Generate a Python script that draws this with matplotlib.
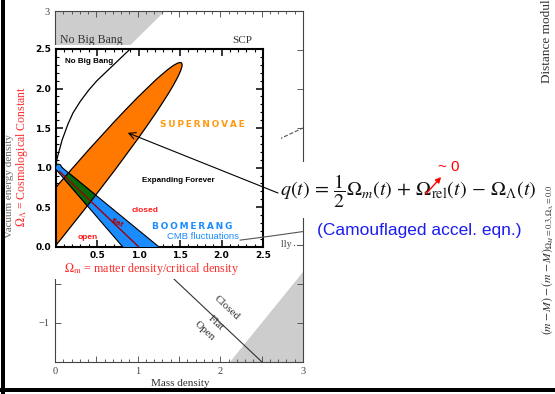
import numpy as np
import matplotlib
matplotlib.use("Agg")
import matplotlib.pyplot as plt
from matplotlib.patches import Ellipse, Polygon, Rectangle, FancyArrowPatch
from matplotlib.lines import Line2D
from matplotlib.ticker import MultipleLocator

plt.rcParams['mathtext.fontset'] = 'stix'
plt.rcParams['font.family'] = 'serif'
plt.rcParams['font.serif'] = ['Liberation Serif', 'DejaVu Serif']

W, H = 555, 394

# --- background plot: mass density vs vacuum energy density ---
bg_xticks = [0, 0.5, 1, 1.5, 2, 2.5, 3]
bg_xticklabels = ['0', '', '1', '', '2', '', '3']
bg_yticks = [-1.5, -1, -0.5, 0, 0.5, 1, 1.5, 2, 2.5, 3]
# 0, 1 and 2 sit under the inset card, so only -1 and 3 get labels
bg_yticklabels = ['', '\u22121', '', '', '', '', '', '', '', '3']
nobang_m = [0.0, 1.33, 0.90, 0.60, 0.0]
nobang_l = [3.0, 3.0, 2.55, 2.20, 1.0]
corner_m = [2.12, 3.0, 3.0]
corner_l = [-1.5, -1.5, -0.35]
flat_m = [0.0, 2.5]
flat_l = [1.0, -1.5]
accel_m = [0.0, 3.0]
accel_l = [0.0, 1.5]
zero_m = [0.0, 3.0]
zero_l = [0.0, 0.0]
recoll_m = [2.24, 2.6, 3.0]
recoll_l = [0.06, 0.11, 0.17]

# --- inset: supernova and CMB constraints ---
in_xticks = [0.5, 1.0, 1.5, 2.0, 2.5]
in_xticklabels = ['0.5', '1.0', '1.5', '2.0', '2.5']
in_yticks = [0.0, 0.5, 1.0, 1.5, 2.0, 2.5]
in_yticklabels = ['0.0', '0.5', '1.0', '1.5', '2.0', '2.5']
nbb_m = [0.0, 0.02, 0.08, 0.15, 0.21, 0.30, 0.40, 0.50, 0.60, 0.70, 0.80, 0.90]
nbb_l = [1.0, 1.12, 1.35, 1.55, 1.69, 1.84, 1.98, 2.10, 2.20, 2.30, 2.40, 2.50]
sn_center = (-0.30, 0.0)
sn_length = 5.9
sn_width = 0.46
sn_angle = 52
cmb_m = [0.0, 0.0, 0.03, 0.06, 0.08, 1.36, 0.89]
cmb_l = [0.985, 1.03, 1.045, 1.035, 1.0, -0.1, -0.1]
flatin_m = [0.05, 1.0]
flatin_l = [0.95, 0.0]


def fx(x):
    return x / W


def fy(y):
    return 1 - y / H


fig = plt.figure(figsize=(5.55, 3.94), dpi=100)

# background chart
ax_bg = fig.add_axes([fx(55), fy(361.7), (303 - 55) / W, (361.7 - 11) / H], zorder=0)
ax_bg.set_xlim(0, 3)
ax_bg.set_ylim(-1.5, 3)
ax_bg.fill(nobang_m, nobang_l, color='#cdcdcd', lw=0)
ax_bg.fill(corner_m, corner_l, color='#cdcdcd', lw=0)
ax_bg.plot(flat_m, flat_l, color='#333333', lw=0.8)
ax_bg.plot(accel_m, accel_l, ls='--', color='#555555', lw=0.8)
ax_bg.plot(zero_m, zero_l, ls=':', color='#555555', lw=0.8)
ax_bg.set_xticks(bg_xticks)
ax_bg.set_xticklabels(bg_xticklabels)
ax_bg.set_yticks(bg_yticks)
ax_bg.set_yticklabels(bg_yticklabels)
ax_bg.xaxis.set_minor_locator(MultipleLocator(0.1))
ax_bg.tick_params(which='both', direction='in', top=True, right=True,
                  colors='#444444', labelsize=7.5, width=0.6, pad=4)
ax_bg.tick_params(which='major', length=4)
ax_bg.tick_params(which='minor', length=2)
for s in ax_bg.spines.values():
    s.set_color('#444444')
    s.set_linewidth(0.8)
ax_bg.text(0.06, 2.63, 'No Big Bang', fontsize=8.5, color='#333333', va='center')
ax_bg.text(2.14, 2.62, 'SCP', fontsize=8, color='#333333', va='center')
ax_bg.text(2.08, -0.81, 'Closed', rotation=-43, fontsize=8, color='#333333',
           ha='center', va='center')
ax_bg.text(1.95, -1.0, 'Flat', rotation=-43, fontsize=8, color='#333333',
           ha='center', va='center')
ax_bg.text(1.81, -1.11, 'Open', rotation=-43, fontsize=8, color='#333333',
           ha='center', va='center')
ax_bg.text(2.86, 0.0, 'recollapses eventually', fontsize=7, color='#444444',
           ha='right', va='center',
           bbox=dict(facecolor='white', edgecolor='none', pad=0.5))
fig.text(fx(10), fy(186), 'Vacuum energy density', rotation=90, fontsize=8,
         color='#666666', ha='center', va='center')
fig.text(fx(180), fy(384), 'Mass density', fontsize=8, color='#333333',
         ha='center', va='center')

# white card behind the inset
fig.add_artist(Rectangle((fx(16), fy(279)), (281 - 16) / W, (279 - 45) / H,
                         transform=fig.transFigure, facecolor='white',
                         edgecolor='none', zorder=1))

# inset chart
ax_in = fig.add_axes([fx(55.5), fy(246.7), (263 - 55.5) / W, (246.7 - 49) / H], zorder=2)
ax_in.set_xlim(0, 2.5)
ax_in.set_ylim(0, 2.5)
sn = Ellipse(sn_center, sn_length, sn_width, angle=sn_angle,
             facecolor='#ff7800', edgecolor='none', zorder=2)
ax_in.add_patch(sn)
cmb_xy = np.column_stack([cmb_m, cmb_l])
ax_in.add_patch(Polygon(cmb_xy, closed=True, facecolor='#1a8cff',
                        edgecolor='black', lw=0.8, zorder=3))
overlap = Polygon(cmb_xy, closed=True, facecolor='#086b08',
                  edgecolor='black', lw=0.8, zorder=4)
ax_in.add_patch(overlap)
overlap.set_clip_path(sn)
ax_in.add_patch(Ellipse(sn_center, sn_length, sn_width, angle=sn_angle,
                        facecolor='none', edgecolor='black', lw=0.9, zorder=5))
ax_in.plot(flatin_m, flatin_l, color='#a00000', lw=1.0, zorder=6)
ax_in.plot(nbb_m, nbb_l, color='black', lw=0.9, zorder=6)

ax_in.set_xticks(in_xticks)
ax_in.set_xticklabels(in_xticklabels)
ax_in.set_yticks(in_yticks)
ax_in.set_yticklabels(in_yticklabels)
ax_in.xaxis.set_minor_locator(MultipleLocator(0.1))
ax_in.yaxis.set_minor_locator(MultipleLocator(0.1))
ax_in.tick_params(which='both', direction='in', top=True, right=True,
                  labelsize=6.5, pad=3)
ax_in.tick_params(which='major', length=5, width=1.1)
ax_in.tick_params(which='minor', length=2.5, width=0.8)
for lbl in ax_in.get_xticklabels() + ax_in.get_yticklabels():
    lbl.set_fontfamily('DejaVu Sans')
    lbl.set_fontweight('bold')
for s in ax_in.spines.values():
    s.set_linewidth(1.5)

sans = 'Liberation Sans'
ax_in.text(0.11, 2.34, 'No Big Bang', fontsize=5.8, fontweight='bold',
           family=sans, va='center')
ax_in.text(1.26, 1.55, 'S\u2009U\u2009P\u2009E\u2009R\u2009N\u2009O\u2009V\u2009A\u2009E',
           fontsize=6.5, fontweight='bold', family='DejaVu Sans', color='#ff9a10',
           va='center')
ax_in.text(1.04, 0.84, 'Expanding Forever', fontsize=5.8, fontweight='bold',
           family=sans, va='center')
ax_in.text(0.92, 0.46, 'closed', fontsize=6, fontweight='bold', family=sans,
           color='#ff1a1a', va='center')
ax_in.text(0.75, 0.29, 'flat', fontsize=6, fontweight='bold', family=sans,
           color='#b00000', va='center', ha='center', rotation=-25)
ax_in.text(0.27, 0.12, 'open', fontsize=6, fontweight='bold', family=sans,
           color='#ff1a1a', va='center')
ax_in.text(1.16, 0.25, 'B\u2009O\u2009O\u2009M\u2009E\u2009R\u2009A\u2009N\u2009G',
           fontsize=6.5, fontweight='bold', family='DejaVu Sans', color='#1a8cff',
           va='center')
ax_in.text(1.34, 0.13, 'CMB fluctuations', fontsize=6.8,
           family=sans, color='#1a8cff', va='center')

ax_in.annotate('', xy=(0.87, 1.44), xycoords='data',
               xytext=(278, H - 193), textcoords='figure pixels',
               arrowprops=dict(arrowstyle='->', color='black', lw=0.8,
                               shrinkA=0, shrinkB=0, mutation_scale=12),
               annotation_clip=False)

fig.text(fx(22), fy(156), r'$\Omega_\Lambda$ = Cosmological Constant', rotation=90,
         fontsize=8.6, color='#ff2b2b', ha='center', va='center', zorder=3)
fig.text(fx(152), fy(269), r'$\Omega_{\rm m}$ = matter density/critical density',
         fontsize=8.7, color='#ff2b2b', ha='center', va='center', zorder=3)

# recollapse boundary runs on top of the inset card
fig.add_artist(Line2D(recoll_m, recoll_l, transform=ax_bg.transData,
                      color='#555555', lw=0.8, zorder=2.5))

# equation card
fig.add_artist(Rectangle((fx(285), fy(218)), (541 - 285) / W, (218 - 162) / H,
                         transform=fig.transFigure, facecolor='white',
                         edgecolor='none', zorder=3))
fig.text(fx(280), fy(196.7),
         r'$q(t)\,=\,\dfrac{1}{2}\Omega_m(t)\,+\,\Omega_{\mathrm{rel}}(t)\,-\,\Omega_\Lambda(t)$',
         fontsize=14.5, color='#111111', ha='left', va='baseline', zorder=4)
fig.text(fx(438), fy(167), '~ 0', fontsize=11, color='red',
         family='Liberation Sans', ha='left', va='center', zorder=4)
fig.add_artist(FancyArrowPatch((fx(424), fy(196)), (fx(443), fy(175)),
                               transform=fig.transFigure, arrowstyle='-|>',
                               mutation_scale=8, color='red', lw=1, zorder=6))
fig.text(fx(317), fy(230), '(Camouflaged accel. eqn.)', fontsize=12.5,
         color='#1c1cf0', family='Liberation Sans', ha='left', va='center', zorder=4)

# fragments of the neighbouring plot
fig.text(fx(547), fy(83), 'Distance modulus', rotation=90, fontsize=9.5,
         color='#333333', ha='center', va='bottom')
fig.text(fx(548), fy(335),
         r'$(m-M)-(m-M)_{\Omega_M=0.3,\Omega_\Lambda=0.0}$', rotation=90,
         fontsize=8.5, color='#333333', ha='center', va='bottom', zorder=4)

# slide frame
fig.add_artist(Rectangle((fx(0.5), 0), 4 / W, 1, transform=fig.transFigure,
                         facecolor='black', edgecolor='none', zorder=10))
fig.add_artist(Rectangle((0, fy(392)), 1, 4 / H, transform=fig.transFigure,
                         facecolor='black', edgecolor='none', zorder=10))

fig.savefig('out.png', dpi=100)
